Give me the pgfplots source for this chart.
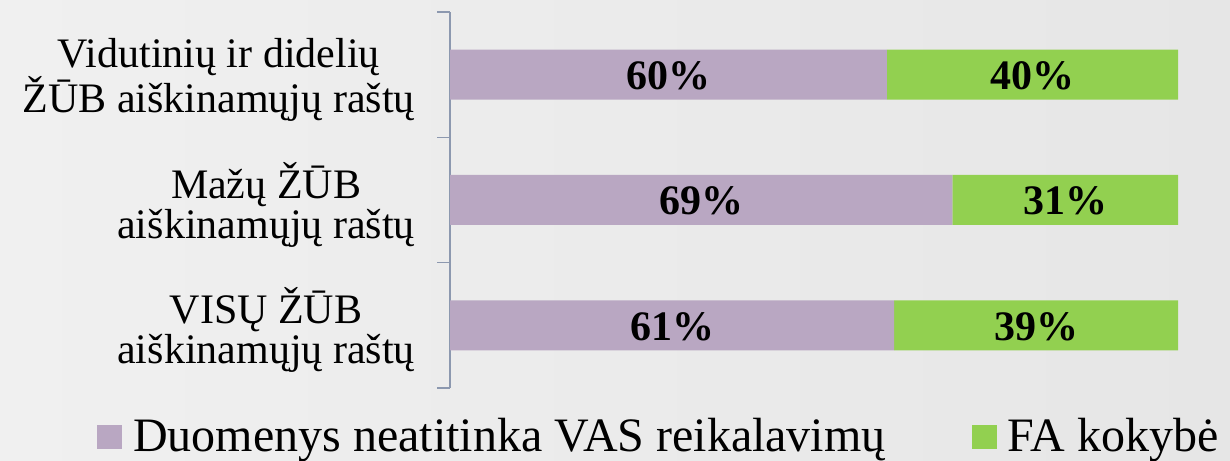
\documentclass[border=0pt]{standalone}
\usepackage{pgfplots}
\pgfplotsset{compat=1.18}
\usepackage{pgfplotstable}
\usepackage{fontspec}
\setmainfont{Liberation Serif}
\definecolor{barpurple}{RGB}{185,167,194}
\definecolor{bargreen}{RGB}{146,208,80}
\definecolor{axisgray}{RGB}{140,152,175}
\definecolor{bgleft}{RGB}{240,240,240}
\definecolor{bgright}{RGB}{230,230,230}
\pgfplotstableread{
cat a b
0 61 39
1 69 31
2 60 40
}\datatable
\begin{document}
\begin{tikzpicture}
\shade[left color=bgleft, right color=bgright] (0pt,0pt) rectangle (1230pt,460pt);
\begin{axis}[
  at={(450pt,72pt)}, anchor=south west,
  scale only axis, width=728pt, height=376pt,
  xbar stacked, bar width=50pt,
  xmin=0, xmax=100, ymin=-0.5, ymax=2.5,
  enlargelimits=false,
  axis x line=none,
  axis y line*=left,
  y axis line style={draw=axisgray, line width=1.5pt},
  xtick=\empty,
  ytick={0,1,2},
  yticklabels={{VISŲ ŽŪB\\aiškinamųjų raštų},{Mažų ŽŪB\\aiškinamųjų raštų},{Vidutinių ir didelių\\ŽŪB aiškinamųjų raštų}},
  major tick length=0pt,
  minor ytick={-0.5,0.5,1.5,2.5},
  minor tick length=13pt,
  tick align=outside,
  minor tick style={draw=axisgray, line width=1.5pt},
  yticklabel style={align=center, font=\fontsize{42}{40}\selectfont, inner sep=0pt, xshift=-35pt, yshift=-5pt, text=black},
  nodes near coords={\pgfmathprintnumber[assume math mode=true,fixed,precision=0]{\rawx}\%},
  every node near coord/.append style={anchor=center, font=\fontsize{42}{42}\selectfont\bfseries, text=black, yshift=-1pt},
  legend columns=2,
  legend image code/.code={\fill[#1] (0pt,3pt) rectangle (25pt,27pt);},
  legend style={draw=none, fill=none, inner sep=0pt, at={(0.2857,-0.127)}, anchor=center,
    font=\fontsize{48}{48}\selectfont, column sep=11pt,
    nodes={anchor=base west, inner sep=0pt},
    /tikz/every even column/.append style={column sep=86pt}},
]
\addplot[fill=barpurple, draw=none, visualization depends on={\thisrow{a} \as \rawx}] table[x=a, y=cat] {\datatable};
\addplot[fill=bargreen, draw=none, visualization depends on={\thisrow{b} \as \rawx}] table[x=b, y=cat] {\datatable};
\legend{Duomenys neatitinka VAS reikalavimų, FA kokybė}
\end{axis}
\end{tikzpicture}
\end{document}
